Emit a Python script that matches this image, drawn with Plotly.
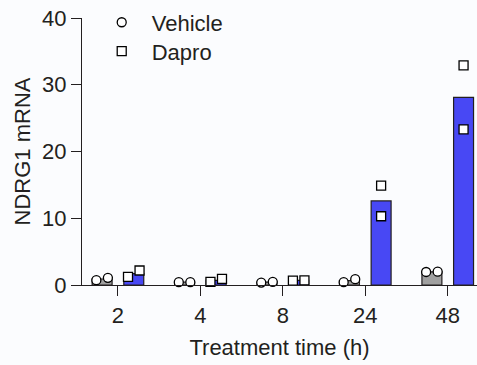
import numpy as np
import plotly.graph_objects as go

# ---- data ----
time_labels = ["2", "4", "8", "24", "48"]
vehicle_pts = [[0.72, 1.08], [0.42, 0.42], [0.37, 0.48], [0.42, 0.87], [1.95, 2.0]]
dapro_pts = [[1.23, 2.17], [0.48, 0.93], [0.67, 0.70], [10.3, 14.9], [23.3, 32.9]]
y_ticks = [0, 10, 20, 30, 40]

# ---- styling / layout constants ----
TEXT = "#231f20"
GRAY = "#a0a0a0"
BLUE = "#4848f4"
BG = "#fbfcfe"
FONT = "Liberation Sans, Arial, sans-serif"
FS = 22
BAR_OFF = 0.192
BAR_W = 0.242
# horizontal spreading of replicate points (beeswarm-like)
veh_spread = [[-0.07, 0.07]] * 5
dap_spread = [[-0.07, 0.07], [-0.07, 0.07], [-0.07, 0.07], [0, 0], [0, 0]]

idx = np.arange(len(time_labels))
veh_mean = [float(np.mean(v)) for v in vehicle_pts]
dap_mean = [float(np.mean(v)) for v in dapro_pts]

fig = go.Figure()
fig.add_trace(go.Bar(x=idx - BAR_OFF, y=veh_mean, width=BAR_W, marker=dict(color=GRAY, line=dict(color=TEXT, width=1.2)),
                     showlegend=False, hoverinfo="skip"))
fig.add_trace(go.Bar(x=idx + BAR_OFF, y=dap_mean, width=BAR_W, marker=dict(color=BLUE, line=dict(color=TEXT, width=1.2)),
                     showlegend=False, hoverinfo="skip"))

vx, vy, dx, dy = [], [], [], []
for i in range(len(time_labels)):
    for j, v in enumerate(vehicle_pts[i]):
        vx.append(i - BAR_OFF + veh_spread[i][j]); vy.append(v)
    for j, v in enumerate(dapro_pts[i]):
        dx.append(i + BAR_OFF + dap_spread[i][j]); dy.append(v)

fig.add_trace(go.Scatter(x=vx, y=vy, mode="markers", name="Vehicle", cliponaxis=False, legend="legend",
                         marker=dict(symbol="circle", size=9, color="white", line=dict(color="black", width=1.3))))
fig.add_trace(go.Scatter(x=dx, y=dy, mode="markers", name="Dapro", cliponaxis=False, legend="legend2",
                         marker=dict(symbol="square", size=9, color="white", line=dict(color="black", width=1.3))))

leg_common = dict(xanchor="left", yanchor="top", bgcolor="rgba(0,0,0,0)",
                  font=dict(family=FONT, size=FS, color=TEXT), itemwidth=50)

fig.update_layout(
    width=477, height=365,
    margin=dict(l=82, r=0, t=18, b=80),
    paper_bgcolor=BG, plot_bgcolor=BG,
    font=dict(family=FONT, size=FS, color=TEXT),
    barmode="overlay",
    legend=dict(x=0.0246, y=1.062, **leg_common),
    legend2=dict(x=0.0246, y=0.954, **leg_common),
    xaxis=dict(range=[-0.436, 4.355], tickvals=list(idx), ticktext=time_labels, showline=True,
               linecolor=TEXT, linewidth=1.3, ticks="outside", ticklen=10, tickwidth=1.3, tickcolor=TEXT,
               showgrid=False, zeroline=False,
               title=dict(text="Treatment time (h)", font=dict(size=FS), standoff=13)),
    yaxis=dict(range=[0, 40], tickvals=y_ticks, showline=True, linecolor=TEXT, linewidth=1.3,
               ticks="outside", ticklen=10, tickwidth=1.3, tickcolor=TEXT, showgrid=False, zeroline=False,
               title=dict(text="NDRG1 mRNA", font=dict(size=FS), standoff=5)),
)

fig.write_html("out.html")
